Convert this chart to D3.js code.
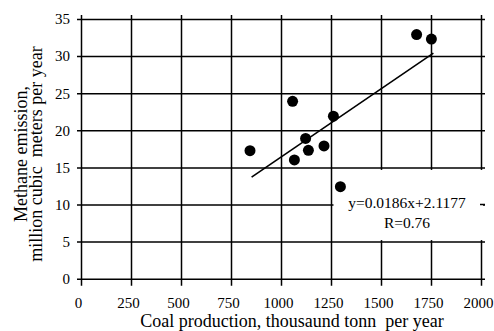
<!DOCTYPE html>
<html><head><meta charset="utf-8">
<script src="https://cdn.jsdelivr.net/npm/d3@7"></script>
<style>
html,body{margin:0;padding:0;background:#fff;}
svg{display:block;font-family:"Liberation Serif","Times New Roman",serif;}
svg text{white-space:pre;}
</style></head>
<body>
<script>
// Data
const coalProduction = [845, 1058, 1067, 1123, 1137, 1215, 1262, 1297, 1678, 1752];
const methaneEmission = [17.25, 23.9, 16.0, 18.9, 17.3, 17.9, 21.9, 12.4, 32.9, 32.3];
const trendX = [853, 1762];
const trendY = [13.7, 30.4];
const xTicks = [0, 250, 500, 750, 1000, 1250, 1500, 1750, 2000];
const yTicks = [0, 5, 10, 15, 20, 25, 30, 35];
const equationLines = ["y=0.0186x+2.1177", "R=0.76"];
const xTitle = "Coal production, thousaund tonn  per year";
const yTitleLines = ["Methane emission,", "million cubic  meters per year"];

(function () {
const W = 494, H = 331;
const pL = 81, pR = 481, pT = 19, pB = 278.7;
const svg = d3.select("body").append("svg").attr("width", W).attr("height", H);

const x = d3.scaleLinear().domain([0, 2000]).range([pL, pR]);
const y = d3.scaleLinear().domain([0, 35]).range([pB, pT]);

// vertical grid + bottom ticks
const gx = svg.append("g").attr("transform", `translate(0,${pB})`)
  .call(d3.axisBottom(x).tickValues(xTicks).tickSizeOuter(0).tickFormat(d3.format("d")));
gx.select(".domain").remove();
gx.selectAll(".tick line").attr("y1", 7).attr("y2", pT - pB - 4)
  .attr("stroke", "#000").attr("stroke-width", 1.5);
gx.selectAll(".tick text").attr("y", 19).attr("dx", -3).attr("font-size", 15)
  .attr("font-family", "Liberation Serif").attr("fill", "#000");

// horizontal grid + left ticks
const gy = svg.append("g").attr("transform", `translate(${pL},0)`)
  .call(d3.axisLeft(y).tickValues(yTicks).tickSizeOuter(0));
gy.select(".domain").remove();
gy.selectAll(".tick line").attr("x1", -4).attr("x2", pR - pL + 4)
  .attr("stroke", "#000").attr("stroke-width", 1.5);
gy.selectAll(".tick text").attr("x", -11).attr("font-size", 15)
  .attr("font-family", "Liberation Serif").attr("fill", "#000");

// equation box (white, covers grid)
const bx0 = x(1250) + 2.5, bx1 = pR + 2, by0 = y(15) + 2.5, by1 = y(5) - 1.5;
svg.append("rect").attr("x", bx0).attr("y", by0).attr("width", bx1 - bx0)
  .attr("height", by1 - by0).attr("fill", "#fff");
svg.append("line").attr("x1", pR - 1).attr("x2", pR + 4)
  .attr("y1", y(10)).attr("y2", y(10)).attr("stroke", "#000").attr("stroke-width", 1.5);
svg.selectAll(".eq").data(equationLines).join("text")
  .attr("x", 407).attr("y", (d, i) => 208 + i * 20)
  .attr("text-anchor", "middle").attr("font-size", 15.5).text(d => d);

// points
svg.selectAll(".pt").data(coalProduction).join("circle")
  .attr("cx", d => x(d)).attr("cy", (d, i) => y(methaneEmission[i]))
  .attr("r", 5.5).attr("fill", "#000");

// trend line
svg.append("line").attr("x1", x(trendX[0])).attr("y1", y(trendY[0]))
  .attr("x2", x(trendX[1])).attr("y2", y(trendY[1]))
  .attr("stroke", "#000").attr("stroke-width", 1.6);

// titles
svg.append("text").attr("x", 292).attr("y", 327).attr("text-anchor", "middle")
  .attr("font-size", 18).text(xTitle);
const yt = svg.append("g").attr("transform", "translate(0,154) rotate(-90)");
yt.selectAll("text").data(yTitleLines).join("text")
  .attr("x", 0).attr("y", (d, i) => 27 + i * 15).attr("text-anchor", "middle")
  .attr("font-size", 18).text(d => d);
})();
</script>
</body></html>
